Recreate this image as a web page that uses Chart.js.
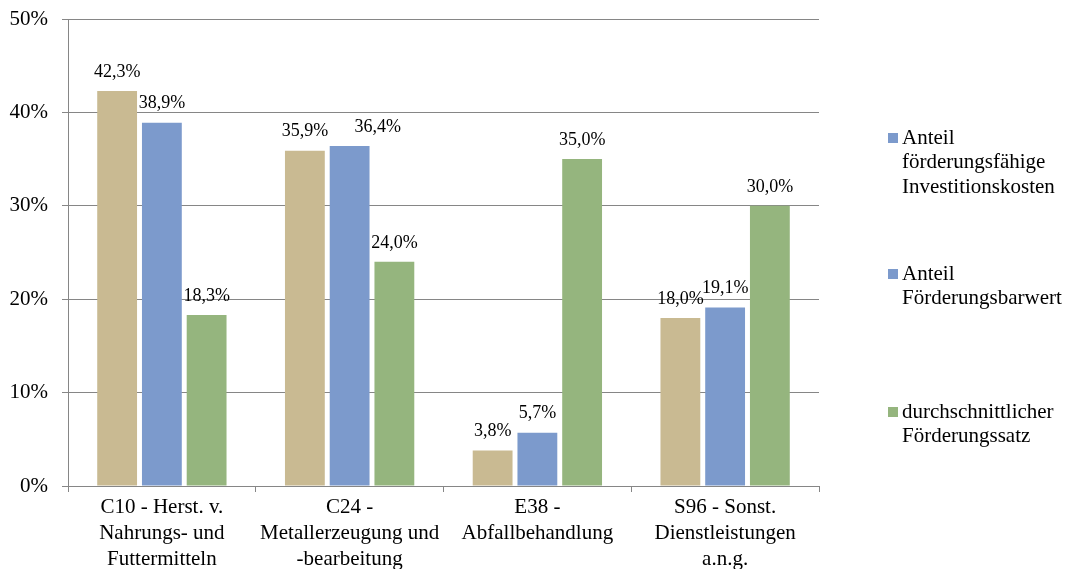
<!DOCTYPE html>
<html lang="de">
<head>
<meta charset="utf-8">
<title>Förderung nach Wirtschaftszweig</title>
<script src="https://cdn.jsdelivr.net/npm/chart.js@4.4.1/dist/chart.umd.min.js"></script>
<style>
  html, body { margin: 0; padding: 0; background: #ffffff; }
  #wrap { width: 1068px; height: 569px; position: relative; }
</style>
</head>
<body>
<div id="wrap"><canvas id="chart" width="1068" height="569"></canvas></div>
<script>
// Wirtschaftszweige (mehrzeilige Achsenbeschriftung)
const categories = [
  ['C10 - Herst. v.', 'Nahrungs- und', 'Futtermitteln'],
  ['C24 -', 'Metallerzeugung und', '-bearbeitung'],
  ['E38 -', 'Abfallbehandlung'],
  ['S96 - Sonst.', 'Dienstleistungen', 'a.n.g.']
];

// Anteile in Prozent
const investShare = [42.3, 35.9, 3.8, 18.0];
const barwertShare = [38.9, 36.4, 5.7, 19.1];
const foerderSatz = [18.3, 24.0, 35.0, 30.0];

const seriesNames = [
  ['Anteil', 'förderungsfähige', 'Investitionskosten'],
  ['Anteil', 'Förderungsbarwert'],
  ['durchschnittlicher', 'Förderungssatz']
];

const yTicks = [0, 10, 20, 30, 40, 50];

const barColors = ['#C9BA92', '#7C9ACC', '#95B57E'];
const legendColors = ['#7C9ACC', '#7C9ACC', '#95B57E'];

const FONT = '"Liberation Serif", "Times New Roman", serif';
const GRID = '#868686';

const fmt = v => v.toFixed(1).replace('.', ',') + '%';

// Seitliche Verschiebung einzelner Beschriftungen, damit sie sich nicht überlappen
const labelShift = { '1:1': 28 };

// Wertbeschriftungen über den Säulen
const valueLabels = {
  id: 'valueLabels',
  afterDatasetsDraw(chart) {
    const ctx = chart.ctx;
    ctx.save();
    ctx.font = '18px ' + FONT;
    ctx.fillStyle = '#000000';
    ctx.textAlign = 'center';
    ctx.textBaseline = 'bottom';
    chart.data.datasets.forEach((ds, i) => {
      const meta = chart.getDatasetMeta(i);
      meta.data.forEach((bar, j) => {
        const dx = labelShift[i + ':' + j] || 0;
        ctx.fillText(fmt(ds.data[j]), bar.x + dx, bar.y - 10);
      });
    });
    ctx.restore();
  }
};

// Legende rechts neben dem Diagramm, mehrzeilig
const sideLegend = {
  id: 'sideLegend',
  afterDraw(chart) {
    const ctx = chart.ctx;
    const firstLineY = [138, 274, 412];
    const lineH = 24.5;
    ctx.save();
    ctx.font = '21px ' + FONT;
    ctx.textAlign = 'left';
    ctx.textBaseline = 'middle';
    chart.data.datasets.forEach((ds, i) => {
      const y0 = firstLineY[i];
      ctx.fillStyle = legendColors[i];
      ctx.fillRect(888, y0 - 5, 10, 10);
      ctx.fillStyle = '#000000';
      ds.label.forEach((line, k) => {
        ctx.fillText(line, 902, y0 + k * lineH);
      });
    });
    ctx.restore();
  }
};

new Chart(document.getElementById('chart'), {
  type: 'bar',
  data: {
    labels: categories,
    datasets: [
      { label: seriesNames[0], data: investShare, backgroundColor: barColors[0] },
      { label: seriesNames[1], data: barwertShare, backgroundColor: barColors[1] },
      { label: seriesNames[2], data: foerderSatz, backgroundColor: barColors[2] }
    ]
  },
  options: {
    responsive: false,
    animation: false,
    devicePixelRatio: 1,
    categoryPercentage: 0.715,
    barPercentage: 0.89,
    layout: { padding: { top: 19, right: 249, bottom: 0, left: 0 } },
    plugins: {
      legend: { display: false },
      tooltip: { enabled: false }
    },
    scales: {
      x: {
        grid: {
          offset: true,
          drawOnChartArea: false,
          drawTicks: true,
          tickLength: 6,
          color: GRID
        },
        border: { color: GRID, width: 1 },
        ticks: {
          color: '#000000',
          font: { family: FONT, size: 21, lineHeight: 1.22 },
          padding: 3,
          maxRotation: 0,
          autoSkip: false
        },
        afterFit(scale) {
          scale.height = 83;
          scale.paddingLeft = 0;
          scale.paddingRight = 0;
        }
      },
      y: {
        min: 0,
        max: 50,
        afterBuildTicks(scale) { scale.ticks = yTicks.map(v => ({ value: v })); },
        grid: {
          color: GRID,
          tickLength: 6,
          drawTicks: true
        },
        border: { color: GRID, width: 1 },
        ticks: {
          color: '#000000',
          font: { family: FONT, size: 21 },
          padding: 14,
          callback: v => v + '%'
        },
        afterFit(scale) {
          scale.width = 68;
          scale.paddingTop = 0;
          scale.paddingBottom = 0;
        }
      }
    }
  },
  plugins: [valueLabels, sideLegend]
});
</script>
</body>
</html>
